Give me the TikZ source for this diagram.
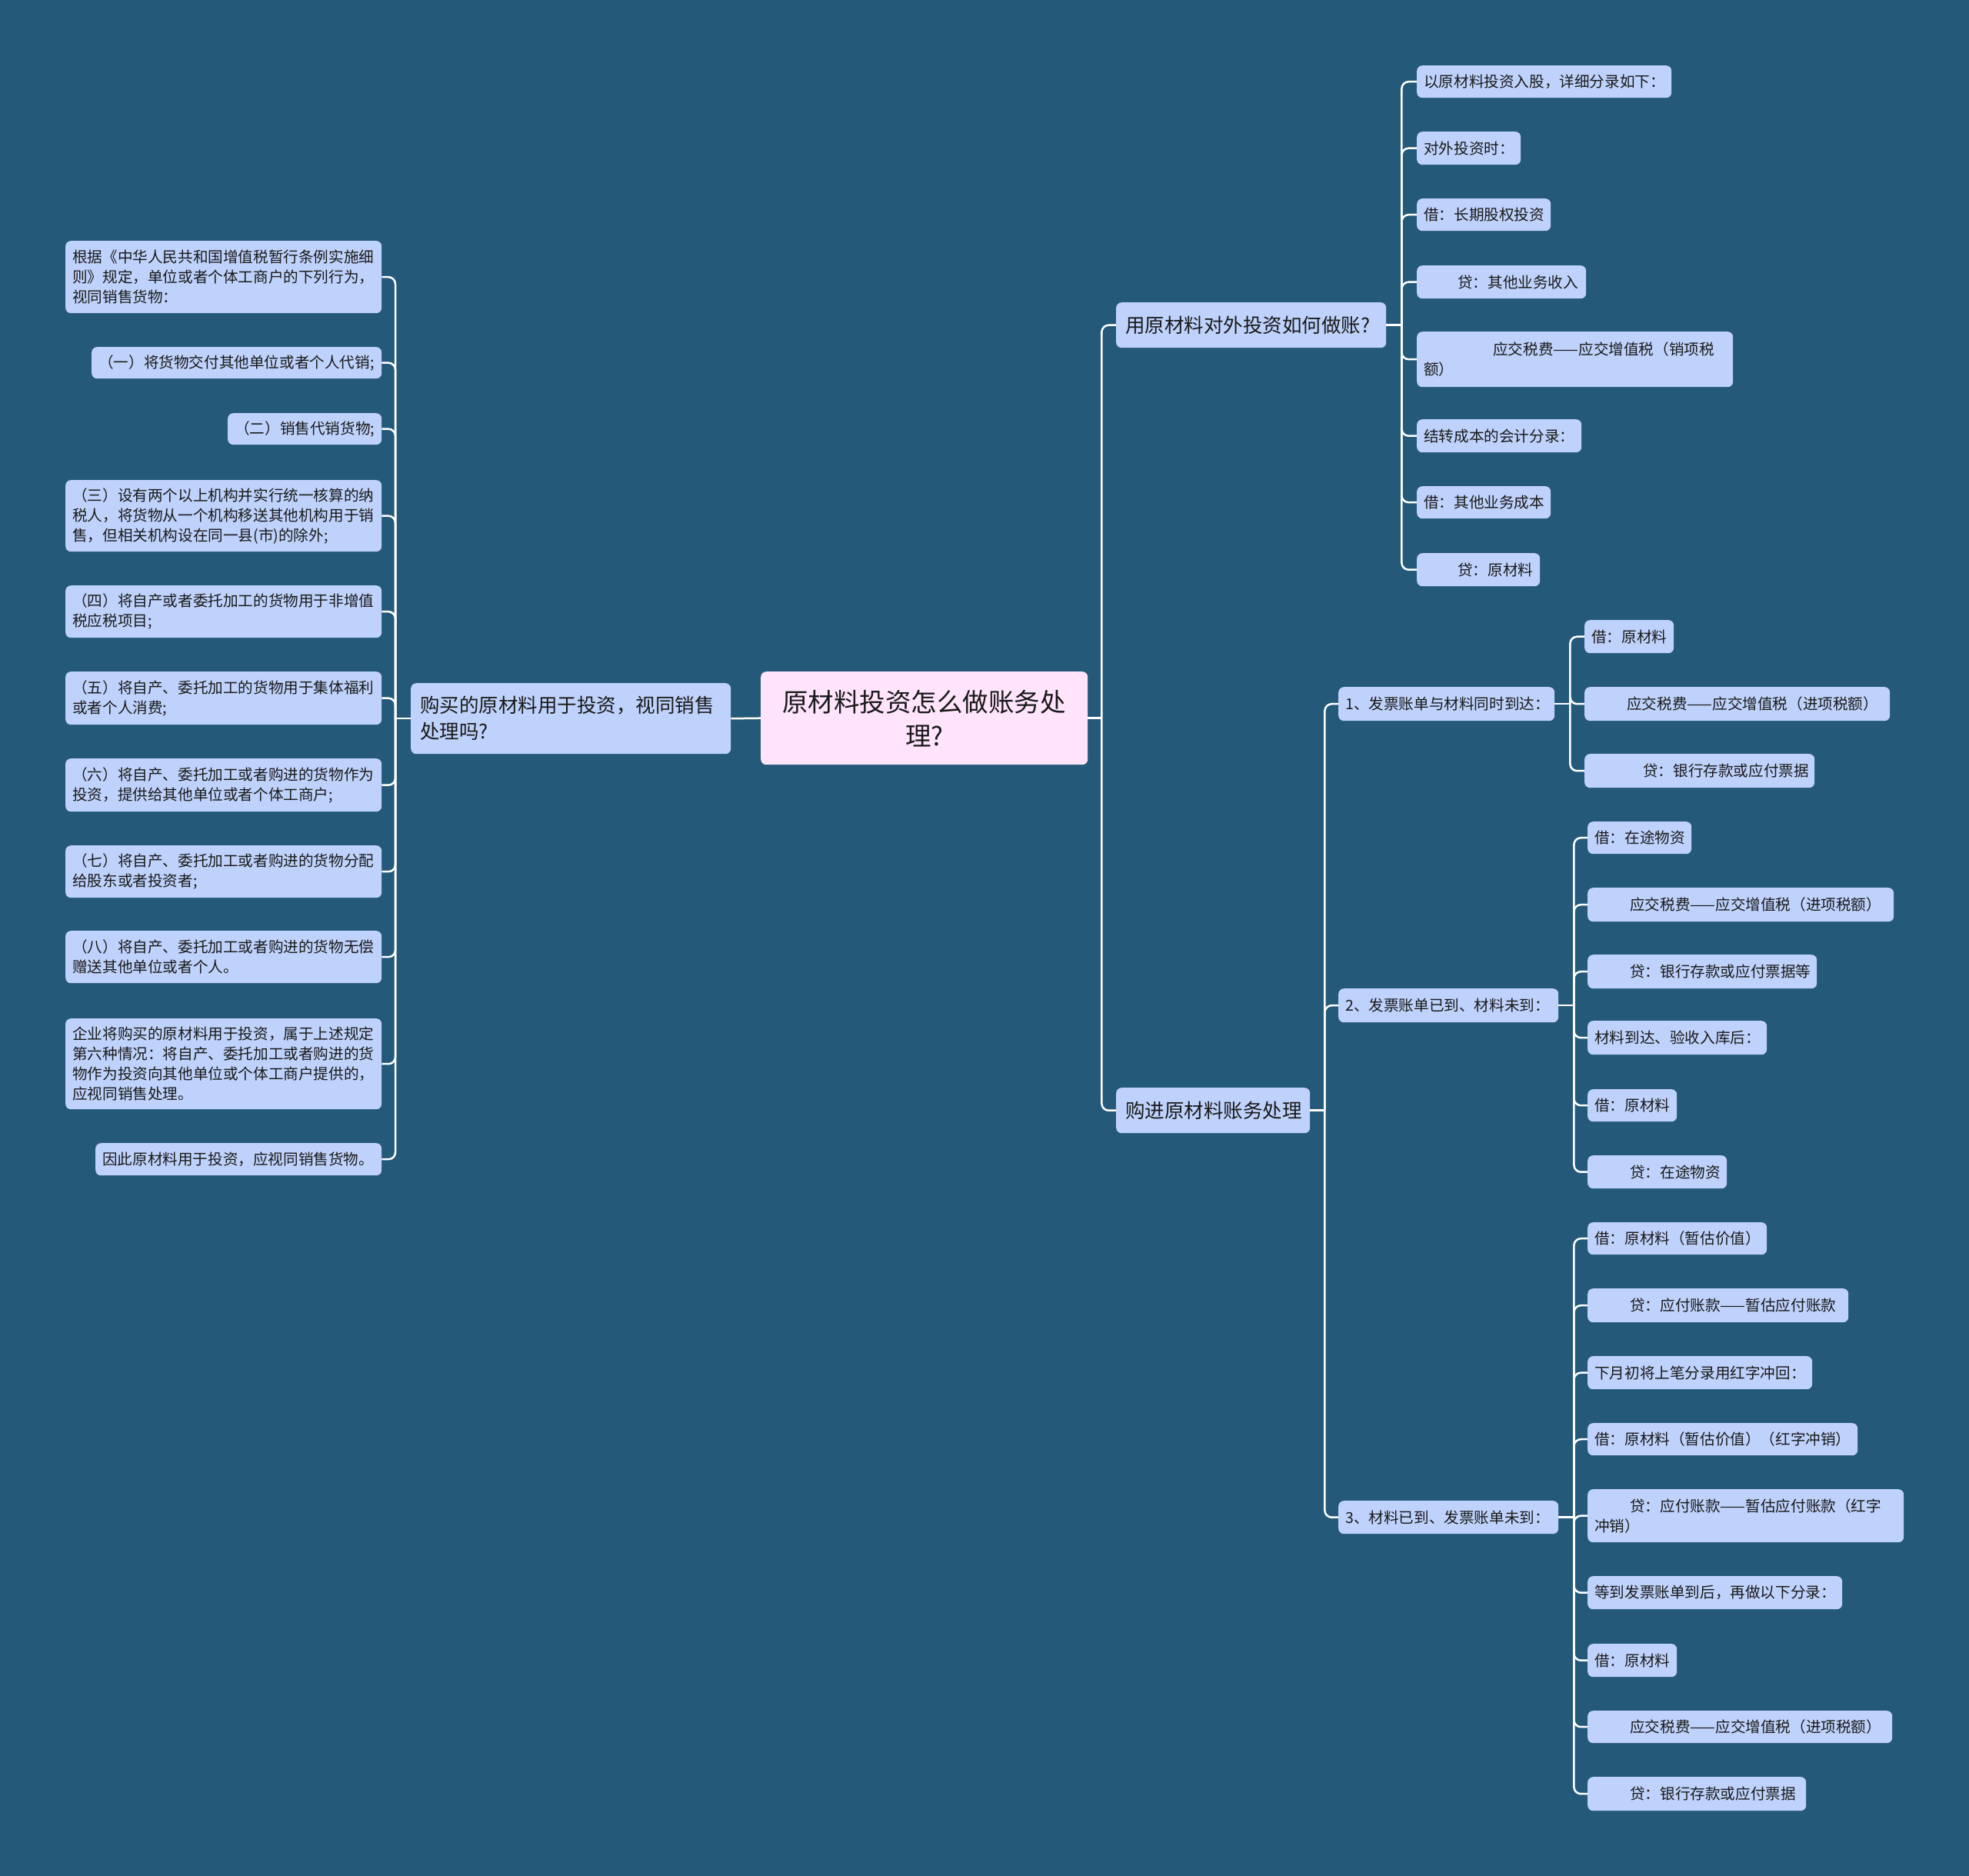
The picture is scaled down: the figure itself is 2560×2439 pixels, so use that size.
\documentclass[tikz,border=0pt]{standalone}
\usepackage{fontspec}
\setmainfont{Noto Sans CJK SC}
\usetikzlibrary{calc}
\definecolor{bg}{RGB}{36,89,122}
\definecolor{nodefill}{RGB}{191,210,251}
\definecolor{rootfill}{RGB}{255,228,252}
\definecolor{txt}{RGB}{25,25,25}
\tikzset{
  leaf/.style={fill=nodefill, rounded corners=7pt, anchor=north west, inner xsep=9pt, inner ysep=0pt, align=left, text=txt, font=\fontsize{19.6}{26}\selectfont},
  mid/.style={leaf, inner xsep=12pt, font=\fontsize{25.5}{34}\selectfont},
  rootbox/.style={leaf, fill=rootfill, inner xsep=12pt, align=center, font=\fontsize{33.5}{44}\selectfont},
  conn/.style={draw=white, line width=2.5pt, rounded corners=9pt},
}
\newcommand\bx[6]{\node[leaf, minimum width=#4pt, minimum height=#5pt, text width=#4pt-18pt] (#1) at (#2,#3) {#6};}
\newcommand\mx[6]{\node[mid, minimum width=#4pt, minimum height=#5pt, text width=#4pt-24pt] (#1) at (#2,#3) {#6};}
\begin{document}
\begin{tikzpicture}[x=1pt,y=-1pt]
\fill[bg] (0,0) rectangle (2560,2439);
\useasboundingbox (0,0) rectangle (2560,2439);

% root
\node[rootbox, minimum width=425pt, minimum height=121pt, text width=401pt] (root) at (989,873) {原材料投资怎么做账务处\\理?};

% left branch
\mx{L1}{534}{888}{416}{92}{购买的原材料用于投资，视同销售\\处理吗?}
\bx{l1}{85}{313}{411}{94}{根据《中华人民共和国增值税暂行条例实施细\\则》规定，单位或者个体工商户的下列行为，\\视同销售货物：}
\bx{l2}{119}{451}{377}{41}{（一）将货物交付其他单位或者个人代销;}
\bx{l3}{296}{537}{200}{41}{（二）销售代销货物;}
\bx{l4}{85}{624}{411}{93}{（三）设有两个以上机构并实行统一核算的纳\\税人，将货物从一个机构移送其他机构用于销\\售，但相关机构设在同一县(市)的除外;}
\bx{l5}{85}{761}{411}{68}{（四）将自产或者委托加工的货物用于非增值\\税应税项目;}
\bx{l6}{85}{873}{411}{69}{（五）将自产、委托加工的货物用于集体福利\\或者个人消费;}
\bx{l7}{85}{986}{411}{69}{（六）将自产、委托加工或者购进的货物作为\\投资，提供给其他单位或者个体工商户;}
\bx{l8}{85}{1099}{411}{68}{（七）将自产、委托加工或者购进的货物分配\\给股东或者投资者;}
\bx{l9}{85}{1210}{411}{68}{（八）将自产、委托加工或者购进的货物无偿\\赠送其他单位或者个人。}
\bx{l10}{85}{1324}{411}{118}{企业将购买的原材料用于投资，属于上述规定\\第六种情况：将自产、委托加工或者购进的货\\物作为投资向其他单位或个体工商户提供的，\\应视同销售处理。}
\bx{l11}{124}{1486}{372}{42}{因此原材料用于投资，应视同销售货物。}

% right level 1
\mx{A}{1451}{393}{351}{59}{用原材料对外投资如何做账?}
\mx{B}{1451}{1414}{252}{59}{购进原材料账务处理}

% A children
\bx{a1}{1842}{85}{331}{42}{以原材料投资入股，详细分录如下：}
\bx{a2}{1842}{171}{135}{43}{对外投资时：}
\bx{a3}{1842}{258}{174}{42}{借：长期股权投资}
\bx{a4}{1842}{345}{220}{43}{\hspace*{44pt}贷：其他业务收入}
\bx{a5}{1842}{431}{411}{72}{\hspace*{90pt}应交税费——应交增值税（销项税\\额）}
\bx{a6}{1842}{545}{214}{43}{结转成本的会计分录：}
\bx{a7}{1842}{632}{174}{42}{借：其他业务成本}
\bx{a8}{1842}{719}{160}{43}{\hspace*{44pt}贷：原材料}

% B children
\bx{b1}{1740}{893}{281}{44}{1、发票账单与材料同时到达：}
\bx{b2}{1740}{1285}{286}{44}{2、发票账单已到、材料未到：}
\bx{b3}{1740}{1951}{286}{43}{3、材料已到、发票账单未到：}

% b1 children
\bx{c11}{2060}{806}{116}{43}{借：原材料}
\bx{c12}{2060}{893}{397}{44}{\hspace*{46pt}应交税费——应交增值税（进项税额）}
\bx{c13}{2060}{980}{299}{44}{\hspace*{67pt}贷：银行存款或应付票据}

% b2 children
\bx{c21}{2064}{1068}{135}{42}{借：在途物资}
\bx{c22}{2064}{1154}{398}{44}{\hspace*{46pt}应交税费——应交增值税（进项税额）}
\bx{c23}{2064}{1241}{298}{44}{\hspace*{46pt}贷：银行存款或应付票据等}
\bx{c24}{2064}{1327}{233}{44}{材料到达、验收入库后：}
\bx{c25}{2064}{1416}{116}{42}{借：原材料}
\bx{c26}{2064}{1502}{181}{43}{\hspace*{46pt}贷：在途物资}

% b3 children
\bx{c31}{2064}{1589}{233}{42}{借：原材料（暂估价值）}
\bx{c32}{2064}{1675}{339}{44}{\hspace*{46pt}贷：应付账款——暂估应付账款}
\bx{c33}{2064}{1763}{292}{43}{下月初将上笔分录用红字冲回：}
\bx{c34}{2064}{1850}{351}{42}{借：原材料（暂估价值）（红字冲销）}
\bx{c35}{2064}{1936}{411}{69}{\hspace*{46pt}贷：应付账款——暂估应付账款（红字\\冲销）}
\bx{c36}{2064}{2049}{331}{43}{等到发票账单到后，再做以下分录：}
\bx{c37}{2064}{2137}{116}{43}{借：原材料}
\bx{c38}{2064}{2224}{396}{42}{\hspace*{46pt}应交税费——应交增值税（进项税额）}
\bx{c39}{2064}{2310}{284}{44}{\hspace*{46pt}贷：银行存款或应付票据}

% connectors
\draw[conn] (root.west) -- (L1.east);
\coordinate (jL) at ($(L1.west)+(-20,0)$);
\draw[conn] (L1.west) -- (jL);
\foreach \i in {1,...,11} \draw[conn] (jL) |- (l\i.east);

\coordinate (jR) at ($(root.east)+(18,0)$);
\draw[conn] (root.east) -- (jR);
\draw[conn] (jR) |- (A.west);
\draw[conn] (jR) |- (B.west);

\coordinate (jA) at ($(A.east)+(20,0)$);
\draw[conn] (A.east) -- (jA);
\foreach \i in {1,...,8} \draw[conn] (jA) |- (a\i.west);

\coordinate (jB) at ($(B.east)+(19,0)$);
\draw[conn] (B.east) -- (jB);
\foreach \i in {1,2,3} \draw[conn] (jB) |- (b\i.west);

\coordinate (j1) at ($(b1.east)+(20,0)$);
\draw[conn] (b1.east) -- (j1);
\foreach \i in {1,2,3} \draw[conn] (j1) |- (c1\i.west);

\coordinate (j2) at ($(b2.east)+(20,0)$);
\draw[conn] (b2.east) -- (j2);
\foreach \i in {1,...,6} \draw[conn] (j2) |- (c2\i.west);

\coordinate (j3) at ($(b3.east)+(20,0)$);
\draw[conn] (b3.east) -- (j3);
\foreach \i in {1,...,9} \draw[conn] (j3) |- (c3\i.west);
\end{tikzpicture}
\end{document}
